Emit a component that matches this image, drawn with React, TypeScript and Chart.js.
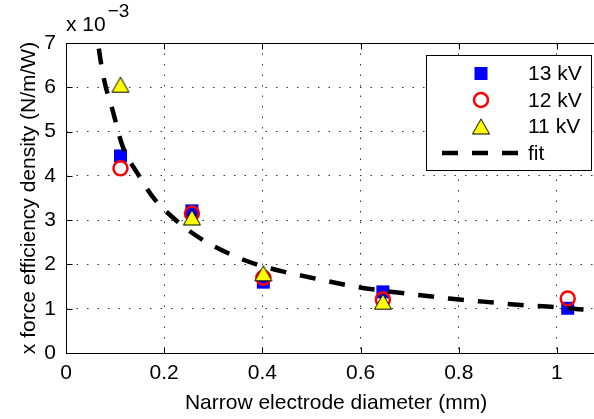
import React, { useEffect, useRef } from 'react';
import { Chart, registerables } from 'chart.js';

Chart.register(...registerables);

// ---- data ----
const xDiameters = [0.111, 0.2565, 0.402, 0.6455, 1.022];
const kv13 = [4.45, 3.21, 1.6, 1.38, 1.01];
const kv12 = [4.17, 3.15, 1.7, 1.21, 1.23];
const kv11 = [6.06, 3.06, 1.8, 1.16];
const fitX = [0.06, 0.066, 0.078, 0.095, 0.115, 0.146, 0.18, 0.228, 0.279, 0.337, 0.388, 0.45, 0.5, 0.578, 0.65, 0.718, 0.78, 0.85, 0.92, 0.98, 1.044, 1.1];
const fitY = [7.55, 6.95, 6.15, 5.48, 4.68, 4.05, 3.48, 2.96, 2.55, 2.22, 2.0, 1.82, 1.7, 1.52, 1.4, 1.31, 1.23, 1.16, 1.09, 1.05, 0.99, 0.96];
const xTicks = [0, 0.2, 0.4, 0.6, 0.8, 1];
const yTicks = [0, 1, 2, 3, 4, 5, 6, 7];
const seriesLabels = ['13 kV', '12 kV', '11 kV', 'fit'];
const xTitle = 'Narrow electrode diameter (mm)';
const yTitle = 'x force efficiency density (N/m/W)';
const yExponentBase = 'x 10';
const yExponent = '\u22123';

const FONT = '"Liberation Sans", Arial, Helvetica, sans-serif';

function makeTriangle(): HTMLCanvasElement {
  const c = document.createElement('canvas');
  c.width = 20;
  c.height = 18;
  const g = c.getContext('2d')!;
  g.beginPath();
  g.moveTo(1.5, 16.5);
  g.lineTo(18.5, 16.5);
  g.lineTo(10, 1.5);
  g.closePath();
  g.fillStyle = '#ffff00';
  g.fill();
  g.strokeStyle = '#000';
  g.lineWidth = 1;
  g.stroke();
  return c;
}

export default function App() {
  const ref = useRef<HTMLCanvasElement | null>(null);

  useEffect(() => {
    const canvas = ref.current!;
    const tri = makeTriangle();

    const framePlugin = {
      id: 'matlabFrame',
      afterDraw(chart: any) {
        const { ctx, chartArea: a, scales } = chart;
        ctx.save();
        const L = Math.round(a.left) + 0.5;
        const R = Math.round(a.right) + 0.5;
        const T = Math.round(a.top) + 0.5;
        const B = Math.round(a.bottom) + 0.5;
        ctx.strokeStyle = '#000';
        ctx.lineWidth = 1;
        ctx.setLineDash([]);
        ctx.strokeRect(L, T, R - L, B - T);
        ctx.beginPath();
        scales.x.ticks.forEach((t: any) => {
          const px = Math.round(scales.x.getPixelForValue(t.value)) + 0.5;
          ctx.moveTo(px, B);
          ctx.lineTo(px, B - 6);
          ctx.moveTo(px, T);
          ctx.lineTo(px, T + 6);
        });
        scales.y.ticks.forEach((t: any) => {
          const py = Math.round(scales.y.getPixelForValue(t.value)) + 0.5;
          ctx.moveTo(L, py);
          ctx.lineTo(L + 6, py);
          ctx.moveTo(R, py);
          ctx.lineTo(R - 6, py);
        });
        ctx.stroke();

        // titles
        ctx.fillStyle = '#000';
        ctx.font = `21px ${FONT}`;
        ctx.textAlign = 'center';
        ctx.textBaseline = 'alphabetic';
        ctx.fillText(xTitle, (a.left + a.right) / 2, 409);
        ctx.save();
        ctx.translate(35, (a.top + a.bottom) / 2);
        ctx.rotate(-Math.PI / 2);
        ctx.fillText(yTitle, 0, 0);
        ctx.restore();

        // exponent
        ctx.textAlign = 'left';
        ctx.font = `21px ${FONT}`;
        ctx.fillText(yExponentBase, 66, 31);
        const w = ctx.measureText(yExponentBase).width;
        ctx.font = `19px ${FONT}`;
        ctx.fillText(yExponent, 66 + w + 2, 17);

        // legend
        const bx = 426.5, by = 55.5, bw = 165, bh = 115;
        ctx.fillStyle = '#fff';
        ctx.fillRect(bx, by, bw, bh);
        ctx.strokeStyle = '#000';
        ctx.lineWidth = 1;
        ctx.strokeRect(bx, by, bw, bh);
        const rows = [73.5, 100, 126.5, 153];
        const mx = 481;
        // square
        ctx.fillStyle = '#0000ff';
        ctx.fillRect(mx - 6.5, rows[0] - 6.5, 13, 13);
        // circle
        ctx.beginPath();
        ctx.arc(mx, rows[1], 7, 0, Math.PI * 2);
        ctx.strokeStyle = '#ff0000';
        ctx.lineWidth = 2.5;
        ctx.stroke();
        // triangle
        ctx.drawImage(tri, mx - tri.width / 2, rows[2] - tri.height / 2);
        // fit
        ctx.beginPath();
        ctx.setLineDash([16, 14]);
        ctx.strokeStyle = '#000';
        ctx.lineWidth = 4.5;
        ctx.moveTo(442, rows[3]);
        ctx.lineTo(521, rows[3]);
        ctx.stroke();
        ctx.setLineDash([]);
        ctx.fillStyle = '#000';
        ctx.font = `21px ${FONT}`;
        ctx.textAlign = 'left';
        ctx.textBaseline = 'middle';
        seriesLabels.forEach((s, i) => ctx.fillText(s, 528, rows[i] + 1));
        ctx.restore();
      },
    };

    const chart = new Chart(canvas, {
      type: 'scatter',
      data: {
        datasets: [
          {
            label: seriesLabels[3],
            data: fitX.map((x, i) => ({ x, y: fitY[i] })),
            showLine: true,
            borderColor: '#000',
            borderWidth: 4.5,
            borderDash: [16, 14],
            borderCapStyle: 'butt',
            pointRadius: 0,
            cubicInterpolationMode: 'monotone',
            clip: 0,
            order: 0,
          } as any,
          {
            label: seriesLabels[2],
            data: kv11.map((y, i) => ({ x: xDiameters[i], y })),
            pointStyle: tri,
            pointRadius: 10,
            clip: false,
            order: 1,
          } as any,
          {
            label: seriesLabels[1],
            data: kv12.map((y, i) => ({ x: xDiameters[i], y })),
            pointStyle: 'circle',
            pointRadius: 7,
            borderColor: '#ff0000',
            backgroundColor: 'rgba(0,0,0,0)',
            borderWidth: 2.5,
            clip: false,
            order: 2,
          } as any,
          {
            label: seriesLabels[0],
            data: kv13.map((y, i) => ({ x: xDiameters[i], y })),
            pointStyle: 'rect',
            pointRadius: 9.2,
            backgroundColor: '#0000ff',
            borderColor: '#0000ff',
            borderWidth: 0,
            clip: false,
            order: 3,
          } as any,
        ],
      },
      options: {
        responsive: false,
        animation: false,
        devicePixelRatio: 1,
        layout: { padding: { left: 0, right: 14, top: 43, bottom: 0 } },
        plugins: {
          legend: { display: false },
          tooltip: { enabled: false },
          title: { display: false },
        },
        events: [],
        scales: {
          x: {
            type: 'linear',
            min: 0,
            max: 1.1,
            afterFit: (s: any) => {
              s.height = 66;
            },
            afterBuildTicks: (s: any) => {
              s.ticks = xTicks.map((v) => ({ value: v }));
            },
            ticks: {
              color: '#000',
              font: { family: FONT, size: 21 },
              padding: 8,
              maxRotation: 0,
              autoSkip: false,
              callback: (v: any) => String(Math.round(Number(v) * 10) / 10),
            },
            grid: {
              color: 'rgba(0,0,0,0.8)',
              lineWidth: 1,
              drawTicks: false,
            },
            border: { display: false, dash: [1.5, 9] },
          },
          y: {
            type: 'linear',
            min: 0,
            max: 7,
            afterFit: (s: any) => {
              s.width = 66;
            },
            afterBuildTicks: (s: any) => {
              s.ticks = yTicks.map((v) => ({ value: v }));
            },
            ticks: {
              color: '#000',
              font: { family: FONT, size: 21 },
              padding: 10,
              autoSkip: false,
              callback: (v: any) => String(v),
            },
            grid: {
              color: 'rgba(0,0,0,0.8)',
              lineWidth: 1,
              drawTicks: false,
            },
            border: { display: false, dash: [1.5, 9] },
          },
        },
      } as any,
      plugins: [framePlugin],
    });
    return () => chart.destroy();
  }, []);

  return (
    <div
      style={{
        position: 'fixed',
        left: 0,
        top: 0,
        width: 594,
        height: 419,
        overflow: 'hidden',
        background: '#fff',
      }}
    >
      <canvas ref={ref} width={620} height={419} style={{ display: 'block', width: 620, height: 419 }} />
    </div>
  );
}
